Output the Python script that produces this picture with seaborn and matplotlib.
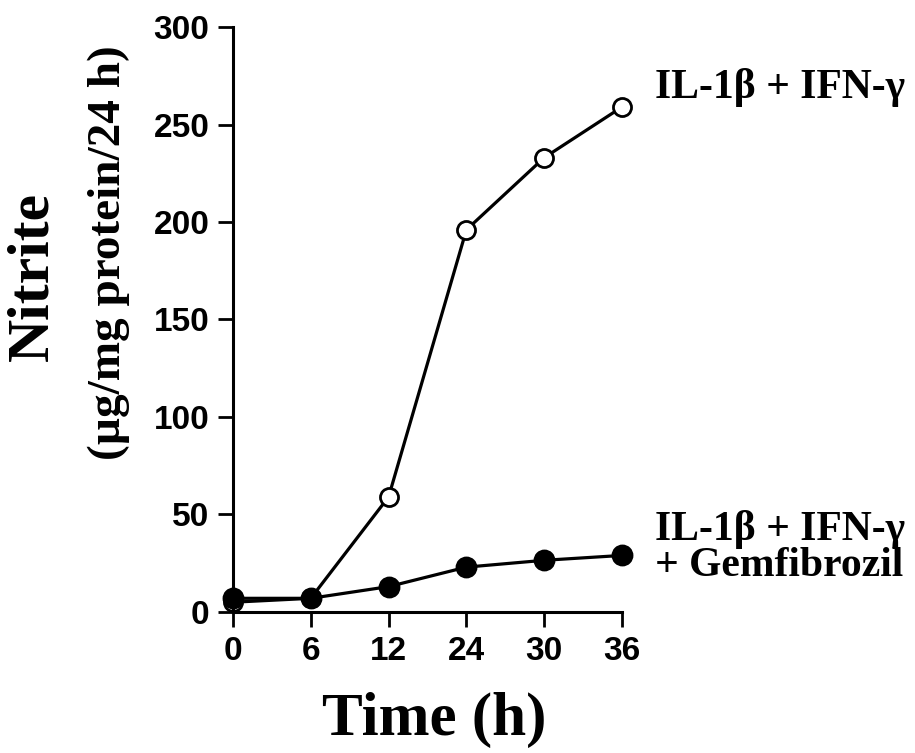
import pandas as pd
import matplotlib
matplotlib.use('Agg')
import matplotlib.pyplot as plt
import seaborn as sns

# data
tiempos = [0, 6, 12, 24, 30, 36]
il_ifn = [5, 7, 59, 196, 233, 259]
il_ifn_gem = [7, 7, 13, 23, 26.5, 29]

df = pd.DataFrame({
    'Time': tiempos * 2,
    'Nitrite': il_ifn + il_ifn_gem,
    'grupo': ['IL'] * len(tiempos) + ['GEM'] * len(tiempos),
})

sns.set_theme(style="ticks")
plt.rcParams['font.family'] = ['Liberation Sans', 'DejaVu Sans']
plt.rcParams['text.color'] = 'black'
plt.rcParams['xtick.color'] = 'black'
plt.rcParams['ytick.color'] = 'black'
plt.rcParams['axes.labelcolor'] = 'black'
serif = ['Liberation Serif', 'DejaVu Serif']

fig = plt.figure(figsize=(9.15, 7.53), dpi=100)
ax = fig.add_axes([0.2546, 0.1873, 0.4252, 0.7768])

# open circles (IL-1b + IFN-g)
sns.pointplot(data=df[df.grupo == 'IL'], x='Time', y='Nitrite', ax=ax,
              color='black', markers='o', linewidth=2.3, markersize=13,
              markerfacecolor='white', markeredgewidth=2.0, clip_on=False)
# filled circles (+ gemfibrozil)
sns.pointplot(data=df[df.grupo == 'GEM'], x='Time', y='Nitrite', ax=ax,
              color='black', markers='o', linewidth=2.3, markersize=14,
              clip_on=False)

ax.set_xlim(0, len(tiempos) - 1)
ax.set_ylim(0, 300)
ax.set_yticks([0, 50, 100, 150, 200, 250, 300])
ax.set_xlabel('')
ax.set_ylabel('')
sns.despine(ax=ax)
for s in ['left', 'bottom']:
    ax.spines[s].set_linewidth(2.2)
    ax.spines[s].set_color('black')
ax.tick_params(axis='both', length=11, width=2.0, color='black',
               labelcolor='black', labelsize=24, pad=6)
for lab in ax.get_xticklabels() + ax.get_yticklabels():
    lab.set_fontweight('bold')

# axis titles
fig.text(0.475, 0.044, 'Time (h)', family=serif, fontweight='bold',
         fontsize=44, ha='center', va='center')
fig.text(0.037, 0.633, 'Nitrite', family=serif, fontweight='bold',
         fontsize=43, rotation=90, ha='center', va='center')
fig.text(0.119, 0.665, '(µg/mg protein/24 h)', family=serif, fontweight='bold',
         fontsize=34, rotation=90, ha='center', va='center')

# series labels
fig.text(0.716, 0.884, 'IL-1β + IFN-γ', family=serif, fontweight='bold',
         fontsize=30, ha='left', va='center')
fig.text(0.716, 0.273, 'IL-1β + IFN-γ\n+ Gemfibrozil', family=serif,
         fontweight='bold', fontsize=30, ha='left', va='center',
         linespacing=0.95)

plt.savefig('out.png', dpi=100)
plt.close()
